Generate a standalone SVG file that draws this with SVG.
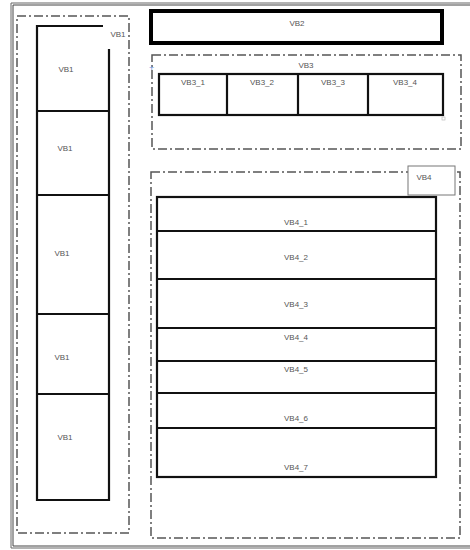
<svg xmlns="http://www.w3.org/2000/svg" width="470" height="550" viewBox="0 0 470 550">
<style>
.t{font-family:"Liberation Sans","DejaVu Sans",sans-serif;font-size:8px;fill:#555;text-anchor:middle}
.dd{fill:none;stroke:#555;stroke-width:1.5;stroke-dasharray:9 3 2 3}
.b{fill:#fff;stroke:#111;stroke-width:2.2}
.ln{stroke:#111;stroke-width:2.2;fill:none}
</style>
<rect width="470" height="550" fill="#fff"/>
<g id="frame">
<path d="M472,3 H11 V548 H472" fill="none" stroke="#666" stroke-width="1"/>
<path d="M472,5 H13 V546 H472" fill="none" stroke="#444" stroke-width="1"/>
</g>
<g id="VB1-container">
<rect class="dd" x="17" y="16" width="112" height="517"/>
<text class="t" x="118" y="37">VB1</text>
</g>
<g id="VB1-column">
<path class="ln" d="M103,26 H37 V500 H109 V49"/>
<line class="ln" x1="37" y1="111" x2="109" y2="111"/>
<line class="ln" x1="37" y1="195" x2="109" y2="195"/>
<line class="ln" x1="37" y1="314" x2="109" y2="314"/>
<line class="ln" x1="37" y1="394" x2="109" y2="394"/>
<text class="t" x="66" y="72">VB1</text>
<text class="t" x="65" y="151">VB1</text>
<text class="t" x="62" y="256">VB1</text>
<text class="t" x="62" y="360">VB1</text>
<text class="t" x="65" y="440">VB1</text>
</g>
<g id="VB2">
<rect x="151" y="11" width="291" height="32" fill="#fff" stroke="#000" stroke-width="4"/>
<text class="t" x="297" y="26">VB2</text>
</g>
<g id="VB3">
<rect class="dd" x="152" y="55" width="309" height="94"/>
<text class="t" x="306" y="68">VB3</text>
<text x="149" y="71" font-family="Liberation Sans,sans-serif" font-size="9" fill="#6a8fd8">+</text>
</g>
<g id="VB3-row">
<rect class="b" x="159" y="74" width="284" height="41"/>
<line class="ln" x1="227" y1="74" x2="227" y2="115"/>
<line class="ln" x1="298" y1="74" x2="298" y2="115"/>
<line class="ln" x1="368" y1="74" x2="368" y2="115"/>
<text class="t" x="193" y="85">VB3_1</text>
<text class="t" x="262" y="85">VB3_2</text>
<text class="t" x="333" y="85">VB3_3</text>
<text class="t" x="405" y="85">VB3_4</text>
<rect x="442" y="117" width="3" height="3" fill="#fff" stroke="#bbb" stroke-width="0.7"/>
</g>
<g id="VB4">
<rect class="dd" x="151" y="172" width="309" height="366"/>
<rect x="408" y="166" width="47" height="29" fill="#fff" stroke="#777" stroke-width="1"/>
<text class="t" x="424" y="180">VB4</text>
</g>
<g id="VB4-rows">
<rect class="b" x="157" y="197" width="279" height="280"/>
<line class="ln" x1="157" y1="231" x2="436" y2="231"/>
<line class="ln" x1="157" y1="279" x2="436" y2="279"/>
<line class="ln" x1="157" y1="328" x2="436" y2="328"/>
<line class="ln" x1="157" y1="361" x2="436" y2="361"/>
<line class="ln" x1="157" y1="393" x2="436" y2="393"/>
<line class="ln" x1="157" y1="428" x2="436" y2="428"/>
<text class="t" x="296" y="225">VB4_1</text>
<text class="t" x="296" y="260">VB4_2</text>
<text class="t" x="296" y="307">VB4_3</text>
<text class="t" x="296" y="340">VB4_4</text>
<text class="t" x="296" y="372">VB4_5</text>
<text class="t" x="296" y="421">VB4_6</text>
<text class="t" x="296" y="470">VB4_7</text>
</g>
</svg>
